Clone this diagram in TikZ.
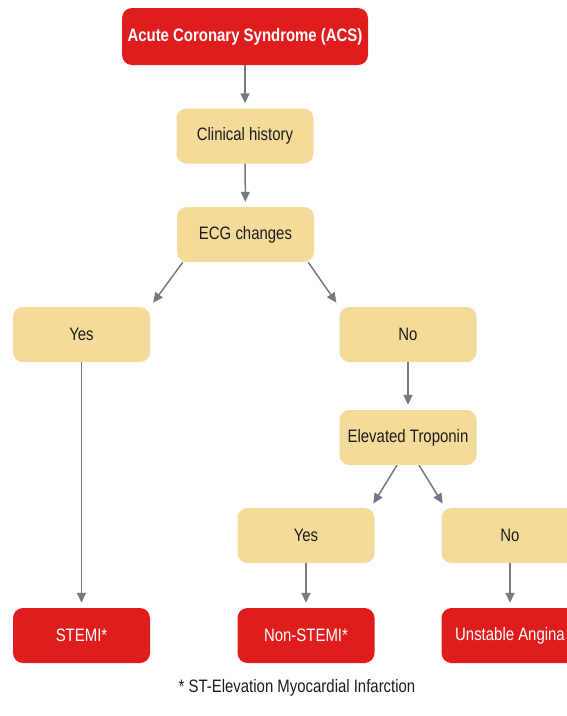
\documentclass[tikz,border=0pt]{standalone}
\usepackage{fontspec}
\setmainfont[FakeStretch=0.83]{Liberation Sans}
\usetikzlibrary{arrows.meta}
\definecolor{acsred}{HTML}{E01D1D}
\definecolor{sand}{HTML}{F4DB9A}
\definecolor{arrgray}{HTML}{757A82}
\definecolor{ink}{HTML}{1C1C1C}
\tikzset{
    box/.style={rectangle, rounded corners=10pt, minimum width=137pt, minimum height=55pt, inner sep=0pt, font=\fontsize{18}{20}\selectfont},
    ask/.style={box, fill=sand, text=ink},
    result/.style={box, fill=acsred, text=white},
    arr/.style={draw=arrgray, line width=1.5pt, -{Triangle[length=10pt,width=9pt]}, shorten >=5pt}
}
\begin{document}
\begin{tikzpicture}[x=1pt, y=-1pt]
    \useasboundingbox (0,0) rectangle (567,716);
    \clip (0,0) rectangle (567,716);

    \node[result, minimum width=246pt, minimum height=57pt, font=\fontsize{18}{20}\selectfont\bfseries] (acs) at (245,36.5) {Acute Coronary Syndrome (ACS)};
    \node[ask] (hist) at (245,136) {Clinical history};
    \node[ask] (ecg) at (245.5,234.5) {ECG changes};
    \node[ask] (yesA) at (81.5,334.5) {Yes};
    \node[ask] (noA) at (408,334.5) {No};
    \node[ask] (trop) at (408,437.5) {Elevated Troponin};
    \node[ask] (yesB) at (306,535.5) {Yes};
    \node[ask] (noB) at (510,535.5) {No};
    \node[result] (stemi) at (81.5,635.5) {STEMI*};
    \node[result] (nstemi) at (306,635.5) {Non-STEMI*};
    \node[result] (ua) at (510,635.5) {Unstable Angina};
    \node[font=\fontsize{18}{20}\selectfont, text=ink] (note) at (297,688) {* ST-Elevation Myocardial Infarction};

    \draw[arr] (acs) -- (hist);
    \draw[arr] (hist) -- (ecg);
    \draw[arr] ([xshift=6pt]ecg.south west) -- (yesA.north east);
    \draw[arr] ([xshift=-6pt]ecg.south east) -- (noA.north west);
    \draw[arr] (yesA) -- (stemi);
    \draw[arr] (noA) -- (trop);
    \draw[arr] ([xshift=-11pt]trop.south) -- ([xshift=-4pt]yesB.north east);
    \draw[arr] ([xshift=11pt]trop.south) -- ([xshift=4pt]noB.north west);
    \draw[arr] (yesB) -- (nstemi);
    \draw[arr] (noB) -- (ua);
\end{tikzpicture}
\end{document}
